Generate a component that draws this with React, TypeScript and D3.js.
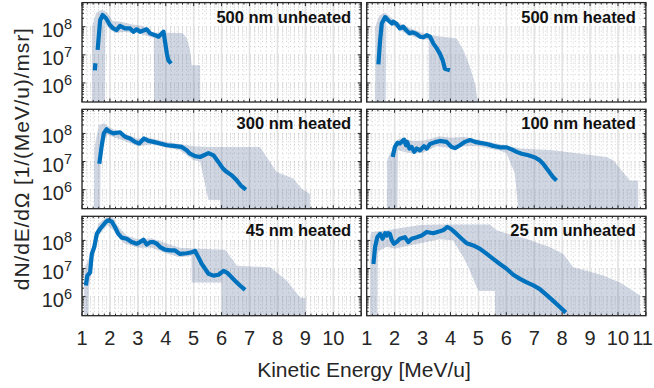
import React from 'react';
import * as d3 from 'd3';

type Pt = [number, number | null];

const titles = ['500 nm unheated', '500 nm heated', '300 nm heated', '100 nm heated', '45 nm heated', '25 nm unheated'];
const xTicksLeft = [1, 2, 3, 4, 5, 6, 7, 8, 9, 10];
const xTicksRight = [1, 2, 3, 4, 5, 6, 7, 8, 9, 10, 11];
const yTickExps = [6, 7, 8];
const xLabel = 'Kinetic Energy [MeV/u]';
const yLabel = 'dN/dE/dΩ [1/(MeV/u)/msr]';

// 500 nm unheated
const line500u: Pt[] = [
  [1.46, 2.8e6], [1.48, 5.0e6], [1.5, null],
  [1.56, 1.5e7], [1.65, 1.7e8], [1.74, 2.6e8], [1.86, 2.0e8], [2.0, 1.15e8], [2.12, 8.7e7], [2.24, 7.6e7],
  [2.36, 1.07e8], [2.54, 8.7e7], [2.72, 8.7e7], [2.84, 6.6e7], [2.96, 8.1e7], [3.08, 6.6e7], [3.32, 8.1e7],
  [3.44, 5.8e7], [3.62, 5.0e7], [3.74, 4.4e7], [3.86, 5.8e7], [3.92, 6.6e7], [4.04, 1.1e7], [4.09, 6.5e6], [4.19, 4.9e6],
];
const upper500u: Pt[] = [
  [1.35, 1e5], [1.36, 1.0e8], [1.5, 3.0e8], [1.7, 4.0e8], [1.9, 3.2e8], [2.1, 1.6e8], [2.4, 1.5e8], [2.8, 1.2e8],
  [3.1, 1.1e8], [3.3, 9.5e7], [3.45, 6.2e7], [4.6, 6.0e7], [4.75, 4.0e7], [4.87, 1.5e7], [4.93, 4.3e6], [5.23, 4.3e6], [5.24, 1e5],
];
const lower500u: Pt[] = [
  [1.35, 1e5], [1.82, 1e5], [1.84, 1.2e8], [2.0, 8.0e7], [2.2, 6.0e7], [2.5, 6.5e7], [3.0, 6.0e7], [3.57, 4.0e7], [3.58, 1e5], [5.24, 1e5],
];

// 500 nm heated
const line500h: Pt[] = [
  [1.42, 4.6e6], [1.48, 3.3e7], [1.54, 1.3e8], [1.66, 2.2e8], [1.77, 1.7e8], [1.9, 1.3e8], [1.95, 1.5e8], [2.07, 1.26e8],
  [2.19, 8.7e7], [2.31, 1.0e8], [2.41, 7.6e7], [2.53, 5.8e7], [2.65, 6.3e7], [2.79, 5.5e7], [2.91, 4.4e7], [3.03, 4.2e7],
  [3.15, 5.0e7], [3.27, 4.4e7], [3.39, 2.5e7], [3.51, 1.7e7], [3.62, 1.1e7], [3.72, 6.5e6], [3.8, 3.2e6], [3.98, 2.8e6],
];
const upper500h: Pt[] = [
  [1.3, 1e5], [1.31, 1.0e8], [1.45, 2.5e8], [1.65, 3.2e8], [1.9, 2.0e8], [2.2, 1.3e8], [2.6, 8.5e7], [3.0, 6.0e7],
  [3.3, 5.0e7], [4.22, 3.8e7], [4.46, 1.5e7], [4.7, 3.7e6], [4.88, 9.3e5], [5.03, 1e5],
];
const lower500h: Pt[] = [
  [1.3, 1e5], [1.68, 1e5], [1.7, 1.5e8], [2.0, 1.0e8], [2.5, 5.0e7], [3.0, 3.5e7], [3.22, 3.5e7], [3.23, 1e5], [5.03, 1e5],
];

// 300 nm heated
const line300h: Pt[] = [
  [1.62, 8.3e6], [1.7, 3.3e7], [1.78, 1.0e8], [1.88, 1.4e8], [1.98, 1.15e8], [2.12, 1.0e8], [2.36, 1.1e8], [2.54, 7.6e7],
  [2.72, 6.6e7], [2.9, 5.0e7], [3.05, 4.4e7], [3.22, 6.6e7], [3.38, 5.4e7], [3.56, 5.0e7], [3.8, 4.4e7], [4.04, 3.8e7],
  [4.27, 3.6e7], [4.57, 3.3e7], [4.75, 2.5e7], [4.87, 1.9e7], [5.05, 1.55e7], [5.23, 1.45e7], [5.53, 2.0e7], [5.71, 1.66e7],
  [5.89, 9.5e6], [6.05, 5.6e6], [6.19, 4.2e6], [6.37, 3.2e6], [6.55, 2.1e6], [6.69, 1.4e6], [6.87, 1.0e6],
];
const upper300h: Pt[] = [
  [1.43, 1e5], [1.44, 3e7], [1.6, 2.0e8], [1.8, 2.3e8], [2.0, 1.6e8], [2.5, 1.0e8], [3.0, 6.5e7], [3.3, 7.5e7], [4.0, 5.0e7],
  [4.6, 4.0e7], [5.0, 3.5e7], [5.5, 3.3e7], [7.38, 3.3e7], [7.97, 4.2e6], [8.57, 2.5e6], [8.86, 1.1e6], [9.17, 7e5], [9.18, 1e5],
];
const lower300h: Pt[] = [
  [1.43, 1e5], [1.65, 1e5], [1.67, 3e7], [1.9, 9e7], [2.5, 5.5e7], [3.0, 3.5e7], [3.5, 4.0e7], [4.5, 2.5e7], [5.0, 1.1e7],
  [5.23, 1.0e7], [5.53, 4.3e5], [5.95, 4.3e5], [5.96, 1e5], [9.18, 1e5],
];

// 100 nm heated
const line100h: Pt[] = [
  [1.93, 1.45e7], [2.01, 3.3e7], [2.1, 4.6e7], [2.19, 4.4e7], [2.29, 5.4e7], [2.34, 6.0e7], [2.41, 3.8e7], [2.45, 5.0e7],
  [2.53, 2.9e7], [2.61, 3.3e7], [2.7, 2.2e7], [2.79, 2.9e7], [2.91, 2.5e7], [3.05, 3.5e7], [3.15, 2.9e7], [3.27, 4.2e7],
  [3.45, 4.9e7], [3.62, 5.4e7], [3.86, 5.0e7], [4.04, 3.3e7], [4.16, 3.0e7], [4.34, 3.8e7], [4.52, 5.0e7], [4.7, 5.8e7],
  [4.88, 5.0e7], [5.06, 4.6e7], [5.3, 4.2e7], [5.53, 3.6e7], [5.77, 3.2e7], [6.01, 3.2e7], [6.19, 2.7e7], [6.37, 2.2e7],
  [6.55, 1.9e7], [6.79, 1.66e7], [7.03, 1.4e7], [7.2, 1.1e7], [7.32, 8.3e6], [7.5, 4.8e6], [7.68, 2.75e6], [7.8, 2.1e6],
];
const upper100h: Pt[] = [
  [1.72, 1e5], [1.74, 1.2e7], [1.9, 2.5e7], [2.1, 6e7], [2.3, 7e7], [2.6, 5.5e7], [3.0, 5.5e7], [3.3, 6.5e7], [3.6, 8e7],
  [4.0, 7e7], [4.5, 7.5e7], [5.0, 6e7], [5.6, 4.5e7], [6.49, 2.9e7], [7.68, 2.5e7], [9.59, 1.45e7], [9.83, 1.1e7],
  [10.43, 2.1e6], [10.72, 2.1e6], [10.73, 1e5],
];
const lower100h: Pt[] = [
  [1.72, 1e5], [2.1, 1e5], [2.12, 2.5e7], [2.5, 2.0e7], [3.0, 2.0e7], [3.5, 3.5e7], [4.0, 3.0e7], [4.5, 3.5e7], [5.0, 3.5e7],
  [5.7, 2.5e7], [6.0, 2.0e7], [6.3, 4e6], [6.46, 1e5], [10.73, 1e5],
];

// 45 nm heated
const line45h: Pt[] = [
  [1.14, 2.5e6], [1.19, 5.6e6], [1.29, 7.2e6], [1.35, 3.3e7], [1.44, 5.8e7], [1.53, 1.7e8], [1.65, 2.6e8], [1.76, 3.5e8],
  [1.86, 4.6e8], [1.94, 5.2e8], [2.07, 4.6e8], [2.18, 3.0e8], [2.3, 1.7e8], [2.42, 1.26e8], [2.6, 1.15e8], [2.78, 8.7e7],
  [2.96, 7.6e7], [3.08, 8.7e7], [3.2, 1.05e8], [3.32, 7.2e7], [3.44, 8.7e7], [3.56, 8.7e7], [3.68, 7.6e7], [3.8, 5.8e7],
  [3.97, 4.7e7], [4.15, 4.4e7], [4.33, 4.4e7], [4.51, 3.3e7], [4.75, 3.5e7], [4.93, 3.8e7], [5.05, 4.2e7], [5.17, 2.5e7],
  [5.29, 1.45e7], [5.41, 9.8e6], [5.53, 6.5e6], [5.71, 5.6e6], [5.89, 6.0e6], [6.07, 8.3e6], [6.19, 7.2e6], [6.3, 5.6e6],
  [6.48, 3.7e6], [6.66, 2.5e6], [6.84, 1.74e6],
];
const upper45h: Pt[] = [
  [1.07, 1e5], [1.08, 1.0e7], [1.3, 3e7], [1.45, 1.5e8], [1.6, 4e8], [1.9, 7e8], [2.1, 7e8], [2.3, 3e8], [2.6, 1.5e8],
  [3.0, 1.1e8], [3.5, 1.2e8], [4.0, 8e7], [4.5, 5.5e7], [5.23, 5e7], [6.13, 4.7e7], [6.55, 1.25e7], [7.74, 1.1e7],
  [8.34, 3.7e6], [8.81, 9.3e5], [9.0, 9e5], [9.01, 1e5],
];
const lower45h: Pt[] = [
  [1.07, 1e5], [1.23, 1e5], [1.25, 2e6], [1.4, 2e7], [1.6, 1.5e8], [1.9, 3.5e8], [2.2, 2e8], [2.5, 8e7], [3.0, 5.5e7],
  [3.5, 5.5e7], [4.0, 3.5e7], [4.5, 2.5e7], [4.92, 2.8e7], [4.93, 3.2e6], [6.0, 3.2e6], [6.01, 1e5], [9.01, 1e5],
];

// 25 nm unheated
const line25u: Pt[] = [
  [1.24, 1.45e7], [1.3, 5.8e7], [1.38, 1.3e8], [1.48, 1.7e8], [1.57, 1.15e8], [1.66, 1.8e8], [1.72, 1.5e8], [1.77, 1.8e8],
  [1.83, 1.7e8], [1.9, 1.0e8], [1.98, 7.6e7], [2.07, 8.7e7], [2.19, 1.15e8], [2.37, 1.3e8], [2.49, 8.7e7], [2.61, 1.15e8],
  [2.79, 1.3e8], [2.97, 1.5e8], [3.15, 2.0e8], [3.38, 1.8e8], [3.62, 2.1e8], [3.77, 2.4e8], [3.89, 3.0e8], [4.01, 2.6e8],
  [4.22, 1.7e8], [4.4, 1.15e8], [4.58, 7.9e7], [4.82, 6.6e7], [5.06, 5.0e7], [5.3, 3.3e7], [5.53, 2.2e7], [5.77, 1.45e7],
  [6.01, 9.8e6], [6.25, 6.0e6], [6.49, 4.3e6], [6.73, 3.2e6], [6.97, 2.5e6], [7.2, 1.86e6], [7.44, 1.15e6], [7.68, 7.1e5],
  [7.92, 4.3e5], [8.13, 2.7e5],
];
const upper25u: Pt[] = [
  [1.12, 1e5], [1.13, 1.5e8], [1.18, 2.0e8], [1.72, 2.3e8], [2.91, 3.5e8], [3.5, 3.7e8], [4.1, 3.7e8], [5.41, 3.7e8],
  [5.65, 2.3e8], [6.25, 1.5e8], [6.73, 1.15e8], [7.2, 7.6e7], [7.56, 5.8e7], [8.04, 3.3e7], [8.4, 1.1e7], [8.88, 8.3e6],
  [9.47, 5.6e6], [10.07, 3.2e6], [10.55, 1.6e6], [10.72, 1.2e6], [10.79, 1.2e6], [10.8, 1e5],
];
const lower25u: Pt[] = [
  [1.12, 1e5], [1.38, 1e5], [1.4, 4e7], [1.72, 6e7], [2.0, 5e7], [2.91, 8e7], [3.62, 1.1e8], [4.1, 1e8], [4.46, 2.5e7],
  [4.7, 8.3e6], [4.94, 2.1e6], [5.03, 1.6e6], [5.59, 1.6e6], [5.6, 1e5], [10.8, 1e5],
];

const lines = [line500u, line500h, line300h, line100h, line45h, line25u];
const uppers = [upper500u, upper500h, upper300h, upper100h, upper45h, upper25u];
const lowers = [lower500u, lower500h, lower300h, lower100h, lower45h, lower25u];

const W = 654;
const H = 388;
const colX = [82, 366.7];
const panelW = 279.2;
const rowY = [2.6, 109.3, 216.3];
const panelH = 99.4;
const FONT = '"Liberation Sans", Arial, Helvetica, sans-serif';
const TXT = '#262626';
const BLUE = '#0072BD';

function Panel({ idx }: { idx: number }) {
  const col = idx % 2;
  const row = Math.floor(idx / 2);
  const x0 = colX[col];
  const y0 = rowY[row];
  const xs = d3.scaleLinear().domain([1, 11]).range([x0, x0 + panelW]);
  const ys = d3.scaleLog().domain([2.1e5, 7.2e8]).range([y0 + panelH, y0]);
  const clipId = `clip${idx}`;

  const minorX = d3.range(1, 11.0001, 0.2).filter((v) => Math.abs(v - Math.round(v)) > 1e-6);
  const majorX = d3.range(1, 12);
  const minorY: number[] = [];
  for (let k = 5; k <= 8; k++) for (let m = 1; m <= 9; m++) {
    const v = m * Math.pow(10, k);
    if (v > 2.1e5 && v < 7.2e8) minorY.push(v);
  }
  const majorY = yTickExps.map((e) => Math.pow(10, e));

  const lineGen = d3.line<Pt>().defined((d) => d[1] != null).x((d) => xs(d[0])).y((d) => ys(d[1] as number));
  const bandPts = uppers[idx].concat(lowers[idx].slice().reverse());
  const bandPath = d3.line<Pt>().x((d) => xs(d[0])).y((d) => ys(d[1] as number))(bandPts) + 'Z';

  const showY = col === 0;
  const showX = row === 2;
  const xt = col === 0 ? xTicksLeft : xTicksRight;

  return (
    <g>
      <defs>
        <clipPath id={clipId}>
          <rect x={x0} y={y0} width={panelW} height={panelH} />
        </clipPath>
      </defs>
      <rect x={x0} y={y0} width={panelW} height={panelH} fill="#fff" />
      <g clipPath={`url(#${clipId})`}>
        {minorX.map((v, i) => (
          <line key={'mx' + i} x1={xs(v)} x2={xs(v)} y1={y0} y2={y0 + panelH} stroke="#c4c4c4" strokeWidth={0.8} strokeDasharray="1 3" />
        ))}
        {minorY.map((v, i) => (
          <line key={'my' + i} x1={x0} x2={x0 + panelW} y1={ys(v)} y2={ys(v)} stroke="#c4c4c4" strokeWidth={0.8} strokeDasharray="1 3" />
        ))}
        {majorX.map((v, i) => (
          <line key={'Mx' + i} x1={xs(v)} x2={xs(v)} y1={y0} y2={y0 + panelH} stroke="#e2e2e2" strokeWidth={1.6} />
        ))}
        <path d={bandPath} fill="#7086A9" fillOpacity={0.33} stroke="none" />
        <path d={lineGen(lines[idx]) || ''} fill="none" stroke={BLUE} strokeWidth={4.2} strokeLinejoin="round" />
      </g>
      {majorX.map((v, i) => (
        <g key={'tx' + i}>
          <line x1={xs(v)} x2={xs(v)} y1={y0 + panelH} y2={y0 + panelH - 3.5} stroke={TXT} strokeWidth={1} />
          <line x1={xs(v)} x2={xs(v)} y1={y0} y2={y0 + 3.5} stroke={TXT} strokeWidth={1} />
        </g>
      ))}
      {minorX.map((v, i) => (
        <g key={'tmx' + i}>
          <line x1={xs(v)} x2={xs(v)} y1={y0 + panelH} y2={y0 + panelH - 2} stroke={TXT} strokeWidth={1} />
          <line x1={xs(v)} x2={xs(v)} y1={y0} y2={y0 + 2} stroke={TXT} strokeWidth={1} />
        </g>
      ))}
      {minorY.map((v, i) => {
        const isMajor = majorY.some((m) => Math.abs(m - v) / m < 1e-6);
        const L = isMajor ? 3.5 : 2;
        return (
          <g key={'ty' + i}>
            <line x1={x0} x2={x0 + L} y1={ys(v)} y2={ys(v)} stroke={TXT} strokeWidth={1} />
            <line x1={x0 + panelW} x2={x0 + panelW - L} y1={ys(v)} y2={ys(v)} stroke={TXT} strokeWidth={1} />
          </g>
        );
      })}
      <rect x={x0} y={y0} width={panelW} height={panelH} fill="none" stroke={TXT} strokeWidth={1.3} />
      <text x={x0 + panelW - 10} y={y0 + 20} textAnchor="end" fontFamily={FONT} fontWeight="bold" fontSize={16.5} fill="#111">
        {titles[idx]}
      </text>
      {showY &&
        yTickExps.map((e) => {
          const ty = ys(Math.pow(10, e));
          return (
            <text key={'yl' + e} x={x0 - 10} y={ty + 10} textAnchor="end" fontFamily={FONT} fill={TXT} fontSize={20}>
              10
              <tspan fontSize={14.5} dy={-8}>{e}</tspan>
            </text>
          );
        })}
      {showX &&
        xt.map((v) => {
          const last = col === 1 && v === 11;
          return (
            <text
              key={'xl' + v}
              x={last ? W - 1 : xs(v)}
              y={y0 + panelH + 29.5}
              textAnchor={last ? 'end' : 'middle'}
              fontFamily={FONT}
              fill={TXT}
              fontSize={20}
            >
              {v}
            </text>
          );
        })}
    </g>
  );
}

export default function App() {
  return (
    <svg width={W} height={H} viewBox={`0 0 ${W} ${H}`} style={{ position: 'absolute', left: 0, top: 0, background: '#fff' }}>
      <rect x={0} y={0} width={W} height={H} fill="#fff" />
      {titles.map((_, i) => (
        <Panel key={i} idx={i} />
      ))}
      <text x={(colX[0] + colX[1] + panelW) / 2} y={377} textAnchor="middle" fontFamily={FONT} fill={TXT} fontSize={21}>
        {xLabel}
      </text>
      <text
        transform={`translate(29,${(rowY[0] + rowY[2] + panelH) / 2}) rotate(-90)`}
        textAnchor="middle"
        fontFamily={FONT}
        fill={TXT}
        fontSize={21}
        textLength={262}
        lengthAdjust="spacing"
      >
        {yLabel}
      </text>
    </svg>
  );
}
